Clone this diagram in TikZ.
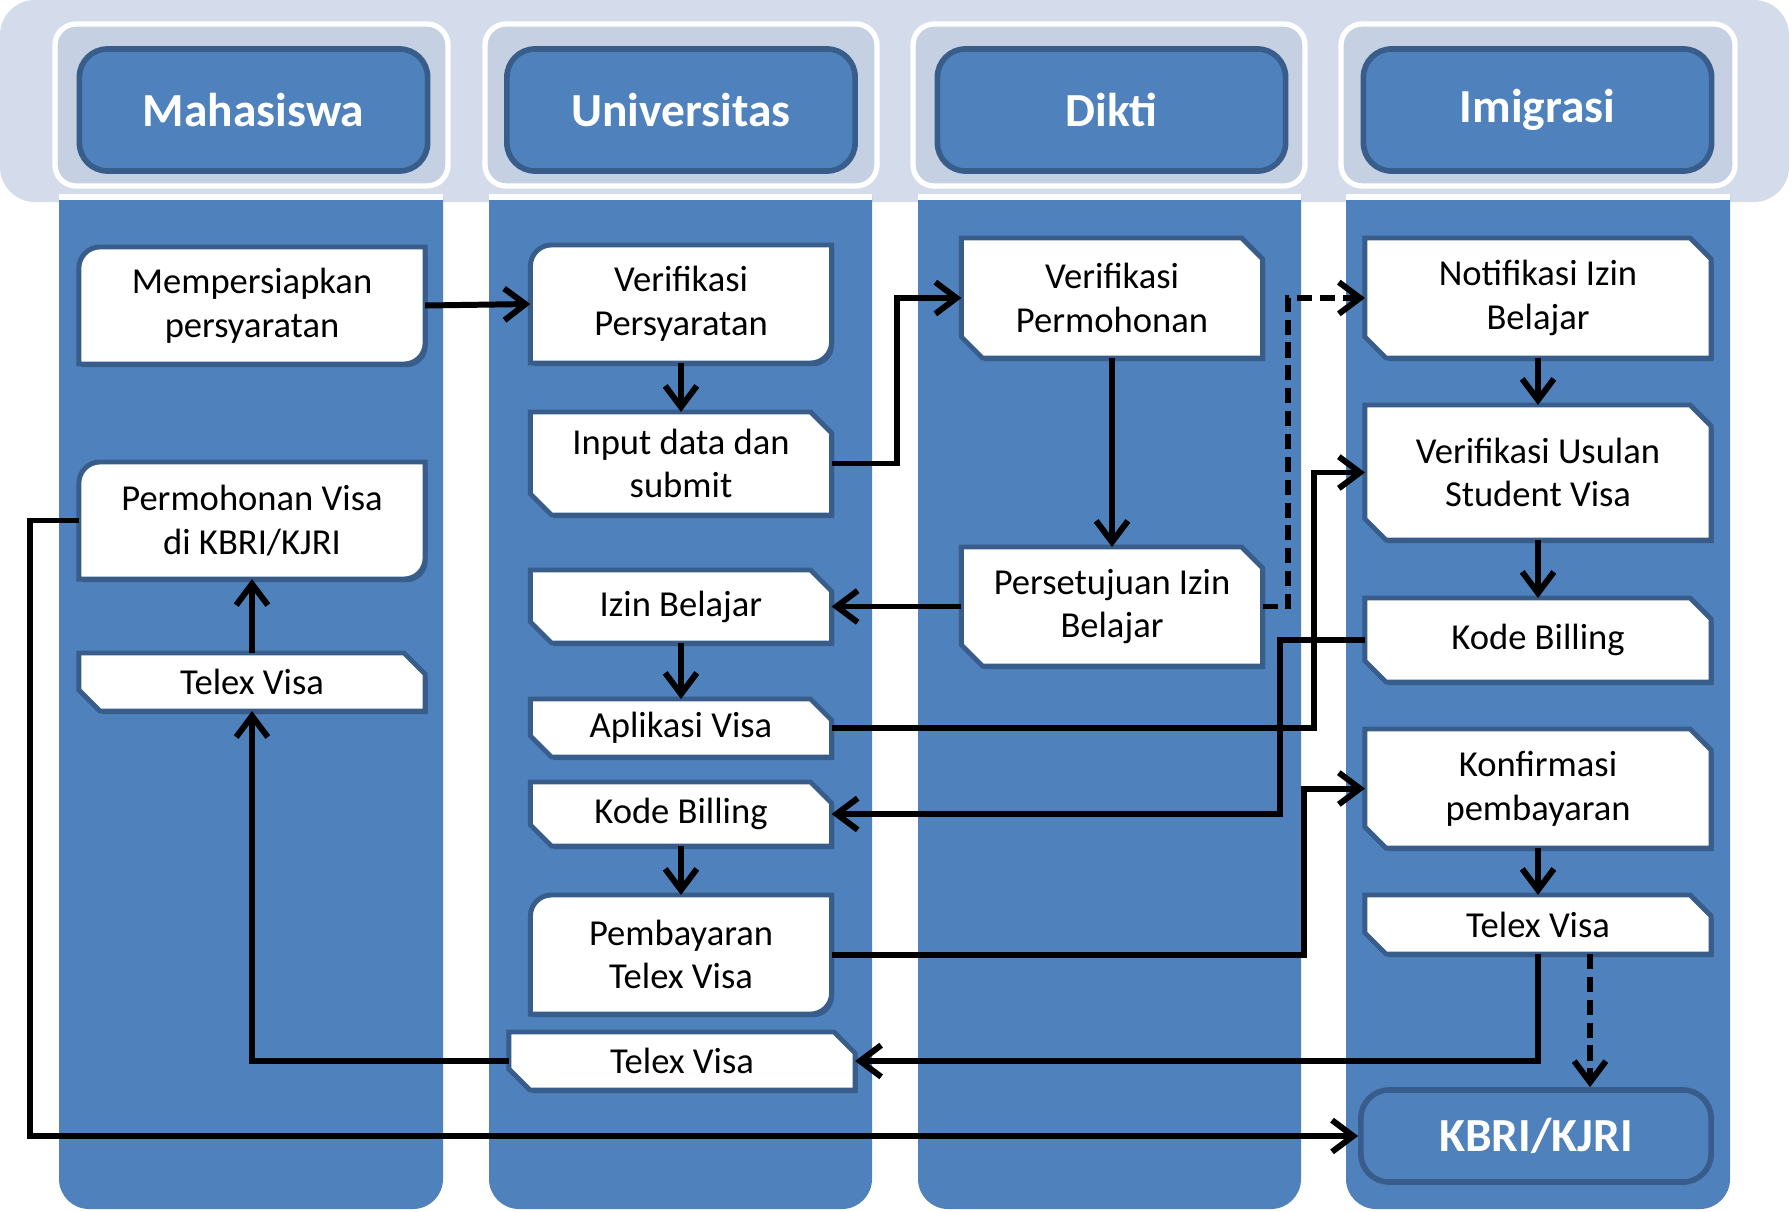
\documentclass[tikz,border=0pt]{standalone}
\usepackage{fontspec}
\setmainfont{Carlito}
\usepackage{xcolor}
\usepackage{tikz}
\usetikzlibrary{arrows.meta,calc}

\definecolor{laneblue}{RGB}{79,129,189}
\definecolor{boxline}{RGB}{56,93,138}
\definecolor{headband}{RGB}{212,220,235}
\definecolor{headcell}{RGB}{197,208,227}

\newcommand{\stepfont}{\fontsize{10.4}{12.4}\selectfont}
\newcommand{\headfont}{\fontsize{13.5}{16}\selectfont\bfseries}

\pgfdeclarelayer{lanes}
\pgfdeclarelayer{boxes}
\pgfsetlayers{lanes,boxes,main}

\begin{document}
\begin{tikzpicture}[
    x=0.01cm, y=0.01cm,
    headbox/.style={rectangle, rounded corners=8pt, fill=laneblue, draw=boxline, line width=1.6pt, minimum width=3.48cm, minimum height=1.22cm, text=white, font=\headfont},
    stepbox/.style={rectangle, inner sep=0pt, outer sep=0pt, align=center, font=\stepfont},
    wide/.style={stepbox, minimum width=3.46cm},
    slim/.style={stepbox, minimum width=3.01cm},
    boxfill/.style={fill=white, draw=boxline, line width=1.4pt},
    roundpath/.style n args={3}{insert path={
        ([shift={(#2,#3-6pt)}]#1.north west) arc[start angle=180, end angle=90, radius=6pt]
        -- ([shift={(#2,#3)}]#1.north east)
        -- ([shift={(#2,#3+6pt)}]#1.south east) arc[start angle=0, end angle=-90, radius=6pt]
        -- ([shift={(#2,#3)}]#1.south west) -- cycle}},
    cutpath/.style n args={3}{insert path={
        ([shift={(#2,#3)}]#1.north west) -- ([shift={(#2-6pt,#3)}]#1.north east)
        -- ([shift={(#2,#3-6pt)}]#1.north east) -- ([shift={(#2,#3)}]#1.south east)
        -- ([shift={(#2+6pt,#3)}]#1.south west) -- ([shift={(#2,#3+6pt)}]#1.south west) -- cycle}},
    arrow/.style={-{Straight Barb[length=6pt,width=9pt]}, line width=1.7pt},
    dasharrow/.style={arrow, dash pattern=on 4.3pt off 2.2pt}
]
    \useasboundingbox (0,0) rectangle (1792,1211);

    % header band and swimlanes
    \begin{pgfonlayer}{lanes}
        \fill[headband, rounded corners=10pt] (0,1009) rectangle (1789,1211);
        \foreach \xa/\xb in {55/448, 485/877, 913/1305, 1341/1735}
            \filldraw[headcell, draw=white, line width=1.5pt, rounded corners=6pt] (\xa,1025) rectangle (\xb,1187);
        \foreach \xa/\xb in {59/443, 489/872, 918/1301, 1346/1730} {
            \fill[laneblue] (\xa,1014) -- (\xa,32) arc[start angle=180, end angle=270, radius=30]
                -- (\xb-30,2) arc[start angle=270, end angle=360, radius=30] -- (\xb,1014) -- cycle;
            \draw[white, line width=1.5pt] (\xa,1014) -- (\xb,1014);
        }
    \end{pgfonlayer}

    \node[headbox] (mhs) at (253.5,1101) {Mahasiswa};
    \node[headbox] (univ) at (681,1101) {Universitas};
    \node[headbox] (dikti) at (1111.5,1101) {Dikti};
    \node[headbox] (imig) at (1537.5,1101) {Imigrasi};

    % Mahasiswa
    \node[wide, minimum height=1.17cm] (prep) at (252,905.5) {Mempersiapkan\\persyaratan};
    \node[wide, minimum height=1.17cm] (perm) at (252,690.5) {Permohonan Visa\\di KBRI/KJRI};
    \node[wide, minimum height=0.58cm] (telexm) at (252,529) {Telex Visa};

    % Universitas
    \node[slim, minimum height=1.18cm] (verp) at (681,907) {Verifikasi\\Persyaratan};
    \node[slim, minimum height=1.03cm] (input) at (681,747.5) {Input data dan\\submit};
    \node[slim, minimum height=0.73cm] (izin) at (681,604.5) {Izin Belajar};
    \node[slim, minimum height=0.58cm] (aplik) at (681,483) {Aplikasi Visa};
    \node[slim, minimum height=0.64cm] (kodeu) at (681,397) {Kode Billing};
    \node[slim, minimum height=1.19cm] (bayar) at (681,256.5) {Pembayaran\\Telex Visa};
    \node[wide, minimum height=0.58cm] (telexu) at (682,150) {Telex Visa};

    % Dikti
    \node[slim, minimum height=1.20cm] (verpm) at (1112,913) {Verifikasi\\Permohonan};
    \node[slim, minimum height=1.19cm] (setuju) at (1112,604.5) {Persetujuan Izin\\Belajar};

    % Imigrasi
    \node[wide, minimum height=1.20cm] (notif) at (1538,913) {Notifikasi Izin\\Belajar};
    \node[wide, minimum height=1.35cm] (usulan) at (1538,738.5) {Verifikasi Usulan\\Student Visa};
    \node[wide, minimum height=0.84cm] (kodei) at (1538,571) {Kode Billing};
    \node[wide, minimum height=1.19cm] (konf) at (1538,422.5) {Konfirmasi\\pembayaran};
    \node[wide, minimum height=0.59cm] (telexi) at (1538,286.5) {Telex Visa};
    \node[headbox, minimum width=3.5cm, minimum height=0.92cm] (kbri) at (1536,75) {KBRI/KJRI};

    % box outlines behind the texts
    \begin{pgfonlayer}{boxes}
        \foreach \n in {prep,perm,verp,bayar} {
            \fill[boxline] [roundpath={\n}{0.7pt}{-0.9pt}];
            \filldraw[boxfill] [roundpath={\n}{0pt}{0pt}];
        }
        \foreach \n in {telexm,input,izin,aplik,kodeu,telexu,verpm,setuju,notif,usulan,kodei,konf,telexi} {
            \fill[boxline] [cutpath={\n}{0.7pt}{-0.9pt}];
            \filldraw[boxfill] [cutpath={\n}{0pt}{0pt}];
        }
    \end{pgfonlayer}

    % bends of the long connectors
    \coordinate (railA) at (897,0);
    \coordinate (railB) at (1288,0);
    \coordinate (railC) at (1314,0);
    \coordinate (railD) at (1280,0);
    \coordinate (railE) at (1304,0);
    \coordinate (railF) at (1590,0);
    \coordinate (railG) at (30,0);

    \draw[arrow] (prep.east) -- (verp.west);
    \draw[arrow] (verp) -- (input);
    \draw[arrow] (input.east) -- (input.east -| railA) |- (verpm.west);
    \draw[arrow] (verpm) -- (setuju);
    \draw[arrow] (setuju) -- (izin);
    \draw[dasharrow] (setuju.east) -- (setuju.east -| railB) |- (notif.west);
    \draw[arrow] (izin) -- (aplik);
    \draw[arrow] (aplik.east) -- (aplik.east -| railC) |- (usulan.west);
    \draw[arrow] (notif) -- (usulan);
    \draw[arrow] (usulan) -- (kodei);
    \draw[arrow] (kodei.west) -- (kodei.west -| railD) |- (kodeu.east);
    \draw[arrow] (kodeu) -- (bayar);
    \draw[arrow] (bayar.east) -- (bayar.east -| railE) |- (konf.west);
    \draw[arrow] (konf) -- (telexi);
    \draw[arrow] (telexi.south) |- (telexu.east);
    \draw[dasharrow] (telexi.south -| railF) -- (kbri.north -| railF);
    \draw[arrow] (telexu.west) -| (telexm.south);
    \draw[arrow] (telexm) -- (perm);
    \draw[arrow] (perm.west) -- (perm.west -| railG) |- (kbri.west);
\end{tikzpicture}
\end{document}
